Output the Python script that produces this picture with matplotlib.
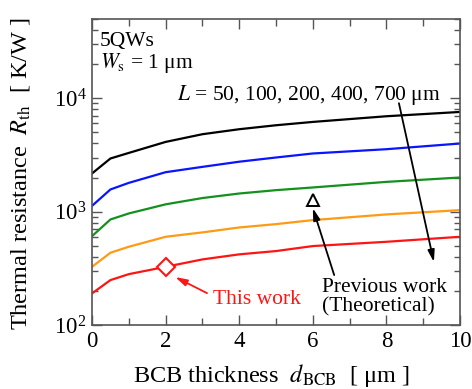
import matplotlib
matplotlib.use("Agg")
import matplotlib.pyplot as plt
from matplotlib.ticker import LogLocator, MultipleLocator, NullFormatter

plt.rcParams['font.family'] = ['Liberation Serif', 'DejaVu Serif']
plt.rcParams['mathtext.fontset'] = 'stix'

# BCB thickness (um) and thermal resistance (K/W) for each stripe length L
d_bcb = [0, 0.5, 1, 2, 3, 4, 5, 6, 8, 10]
r_L50 = [190, 249, 281, 326, 379, 420, 449, 497, 542, 600]
r_L100 = [326, 434, 490, 600, 656, 725, 776, 842, 945, 1031]
r_L200 = [608, 853, 964, 1160, 1318, 1445, 1547, 1634, 1830, 2000]
r_L400 = [1125, 1569, 1794, 2228, 2483, 2757, 3003, 3258, 3554, 3990]
r_L700 = [2172, 2943, 3296, 4121, 4819, 5333, 5781, 6185, 6940, 7575]

this_work = (2, 326)
previous_work = (6, 1263)

fig = plt.figure(figsize=(4.72, 3.89), dpi=100)
ax = fig.add_axes([0.195, 0.1645, 0.7796, 0.7866])

series = [
    (r_L700, 'black'),
    (r_L400, '#0a14ff'),
    (r_L200, '#14901e'),
    (r_L100, '#ff9a14'),
    (r_L50, '#ff1414'),
]
for vals, col in series:
    ax.plot(d_bcb, vals, color=col, lw=1.6)

ax.plot(*this_work, marker='D', ms=9, mfc='white', mec='#ff1414', mew=1.5,
        ls='none', zorder=5)
ax.plot(*previous_work, marker='^', ms=8, mfc='white', mec='black', mew=1.4,
        ls='none', zorder=5)

ax.set_yscale('log')
ax.set_xlim(0, 10)
ax.set_ylim(100, 5e4)

ax.xaxis.set_major_locator(MultipleLocator(2))
ax.xaxis.set_minor_locator(MultipleLocator(1))
ax.yaxis.set_major_locator(LogLocator(base=10))
ax.yaxis.set_minor_locator(LogLocator(base=10, subs=range(2, 10)))
ax.yaxis.set_minor_formatter(NullFormatter())

ax.tick_params(which='both', direction='in', top=True, right=True,
               color='#555555', labelsize=16.5, pad=4)
ax.tick_params(which='major', length=7, width=1)
ax.tick_params(which='minor', length=4.5, width=1)
ax.tick_params(axis='x', which='minor', length=5)
for sp in ax.spines.values():
    sp.set_color('#555555')
    sp.set_linewidth(1.2)

ax.set_xlabel(r'BCB thickness  $d_{\rm BCB}$  [ μm ]', fontsize=17.5)
ax.set_ylabel(r'Thermal resistance  $R_{\rm th}$  [ K/W ]', fontsize=17.5)
ax.xaxis.set_label_coords(0.486, -0.122)
ax.yaxis.set_label_coords(-0.162, 0.495)

ax.text(0.022, 0.927, '5QWs', transform=ax.transAxes, fontsize=15.5,
        ha='left', va='center')
ax.text(0.022, 0.856, r'$W_{\rm s}$ = 1 μm', transform=ax.transAxes, fontsize=15.5,
        ha='left', va='center')
ax.text(0.232, 0.752, r'$L$ = 50, 100, 200, 400, 700 μm', transform=ax.transAxes,
        fontsize=15.5, ha='left', va='center')
ax.text(0.625, 0.09, 'Previous work\n(Theoretical)', transform=ax.transAxes,
        fontsize=15.5, ha='left', va='center', linespacing=1.05)
ax.text(0.329, 0.082, 'This work', transform=ax.transAxes, fontsize=15.5,
        ha='left', va='center', color='#ff1414')

arrow_kw = dict(arrowstyle='-|>,head_length=0.7,head_width=0.2', lw=1.3,
                shrinkA=0, shrinkB=0)
ax.annotate('', xy=(9.29, 359), xytext=(8.34, 9040),
            arrowprops=dict(color='black', **arrow_kw))
ax.annotate('', xy=(6.0, 1074), xytext=(6.58, 276),
            arrowprops=dict(color='black', **arrow_kw))
ax.annotate('', xy=(2.26, 265), xytext=(3.125, 191),
            arrowprops=dict(color='#ff1414', **arrow_kw))

fig.savefig('out.png', dpi=100, facecolor='white')
